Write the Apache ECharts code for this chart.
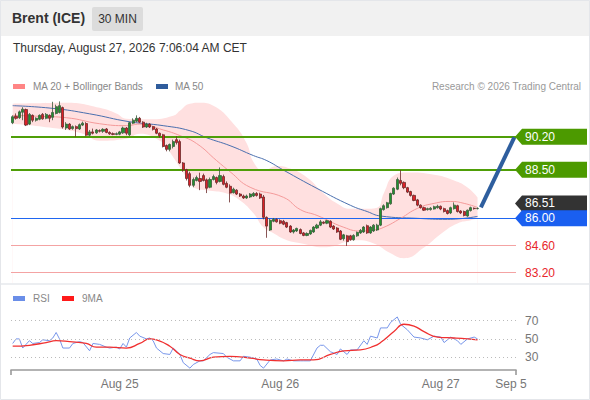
<!DOCTYPE html>
<html><head><meta charset="utf-8">
<script src="https://cdn.jsdelivr.net/npm/echarts@6/dist/echarts.min.js"></script>
<style>html,body{margin:0;padding:0;background:#fff}#c{width:590px;height:400px}</style>
</head><body><div id="c"></div><script>
// ---- data ----
const slotCount = 151; // 30-minute slots incl. projection space
const startUTC = Date.UTC(2026, 7, 24, 8, 0);
const categories = [];
for (let i = 0; i < slotCount; i++) {
  const d = new Date(startUTC + i * 1800000);
  categories.push((d.getUTCMonth() + 1) + '-' + d.getUTCDate() + ' ' + String(d.getUTCHours()).padStart(2, '0') + ':' + String(d.getUTCMinutes()).padStart(2, '0'));
}
const xTickIdx = [32, 80, 128, 149];
const xTickLabels = ['Aug 25', 'Aug 26', 'Aug 27', 'Sep 5'];

// [open, close, low, high]
const ohlc = [
[90.92,91.23,90.85,91.30],[91.25,91.15,91.08,91.40],[91.18,91.48,91.12,91.55],[91.46,91.62,91.05,91.72],
[91.60,90.80,90.75,91.65],[90.85,91.35,90.80,91.42],[91.30,91.05,90.95,91.35],[91.05,91.15,90.98,91.20],
[91.10,91.30,91.05,91.35],[91.35,91.12,91.08,91.42],[91.15,91.35,91.10,91.42],[91.30,91.15,90.95,91.35],
[91.20,91.45,91.05,92.00],[91.40,91.75,91.35,91.85],[91.45,91.80,91.40,92.02],[91.70,90.70,90.62,91.75],
[90.65,90.85,90.55,90.95],[90.85,90.60,90.55,90.90],[90.62,90.72,90.56,90.78],[90.72,90.62,90.20,90.78],
[90.60,90.82,90.55,90.88],[90.80,90.90,90.75,90.98],[90.88,90.28,90.22,90.95],[90.28,90.45,90.22,90.55],
[90.45,90.38,90.32,90.62],[90.40,90.55,90.35,90.60],[90.52,90.48,90.42,90.58],[90.48,90.58,90.40,90.64],
[90.60,90.42,90.38,90.65],[90.42,90.35,90.30,90.48],[90.36,90.32,90.28,90.42],[90.32,90.36,90.28,90.42],
[90.33,90.45,90.28,90.50],[90.40,90.65,90.35,90.72],[90.65,90.38,90.28,90.70],[90.30,90.92,90.24,90.97],
[90.90,91.05,90.85,91.15],[91.00,91.15,90.95,91.30],[91.15,90.95,90.90,91.22],[90.95,90.70,90.65,91.00],
[90.70,90.85,90.65,90.92],[90.85,90.70,90.65,90.90],[90.72,90.58,90.52,90.75],[90.60,90.38,90.33,90.65],
[90.38,90.25,90.15,90.42],[90.30,89.70,89.65,90.35],[89.75,89.55,89.45,89.80],[89.55,89.80,89.45,89.85],
[89.70,89.95,89.60,90.05],[90.05,89.90,89.80,90.22],[89.95,88.85,88.80,90.05],[88.85,88.50,88.40,88.90],
[88.50,88.05,87.95,88.55],[88.30,87.70,87.60,88.40],[87.70,88.00,87.60,88.10],[87.95,88.10,87.90,88.20],
[88.05,87.90,87.45,88.35],[88.20,87.95,87.90,88.30],[87.98,87.55,87.30,88.05],[87.60,88.00,87.55,88.10],
[88.00,88.15,87.95,88.25],[88.10,87.85,87.75,88.15],[87.90,88.20,87.85,88.62],[88.15,87.75,87.70,88.25],
[87.80,87.60,87.55,87.90],[87.65,87.30,86.82,87.75],[87.32,87.50,87.28,87.58],[87.45,87.25,87.20,87.50],
[87.25,87.15,87.10,87.30],[87.15,87.05,87.00,87.22],[87.05,87.15,87.00,87.22],[87.10,87.25,87.05,87.30],
[87.15,87.28,87.10,87.35],[87.28,87.18,87.12,87.35],[87.25,87.05,87.00,87.32],[87.10,86.05,85.95,87.20],
[86.05,85.60,85.00,86.10],[85.40,85.90,85.35,85.98],[85.85,85.95,85.80,86.02],[85.95,85.82,85.78,86.00],
[85.88,85.75,85.70,85.95],[85.85,85.70,85.65,85.92],[85.78,85.55,85.50,85.82],[85.60,85.30,85.25,85.65],
[85.30,85.40,85.22,85.45],[85.35,85.48,85.30,85.52],[85.42,85.22,85.18,85.48],[85.25,85.12,85.08,85.30],
[85.12,85.22,85.08,85.28],[85.20,85.38,85.15,85.42],[85.30,85.55,85.25,85.60],[85.50,85.65,85.45,85.72],
[85.65,85.82,85.60,85.92],[85.80,85.75,85.70,85.85],[85.75,85.88,85.70,85.92],[85.85,85.55,85.50,85.90],
[85.60,85.45,85.40,85.65],[85.50,85.30,85.25,85.55],[85.35,84.92,84.88,85.40],[84.95,85.15,84.85,85.20],
[85.10,84.80,84.58,85.15],[85.10,84.90,84.85,85.15],[84.90,85.12,84.85,85.18],[85.10,85.28,85.05,85.32],
[85.25,85.38,85.20,85.45],[85.30,85.55,85.25,85.60],[85.62,85.25,85.20,85.68],[85.25,85.55,85.20,85.60],
[85.35,85.65,85.30,85.70],[85.40,85.65,85.35,85.72],[85.65,86.50,85.60,86.55],[86.45,86.65,86.40,86.72],
[86.55,86.80,86.50,86.85],[86.75,87.28,86.70,87.32],[87.25,87.55,87.20,87.60],[87.50,88.00,87.45,88.10],
[87.95,87.80,87.70,88.48],[87.85,87.58,87.50,87.90],[87.58,87.35,87.30,87.62],[87.38,87.18,87.12,87.42],
[87.18,86.92,86.88,87.22],[86.95,86.68,86.62,87.00],[86.68,86.55,86.50,86.72],[86.55,86.42,86.38,86.60],
[86.45,86.50,86.40,86.55],[86.45,86.52,86.40,86.58],[86.48,86.60,86.45,86.65],[86.55,86.62,86.50,86.70],
[86.62,86.48,86.42,86.66],[86.50,86.35,86.30,86.55],[86.40,86.25,86.20,86.45],[86.28,86.55,86.22,86.60],
[86.50,86.68,86.45,86.82],[86.65,86.35,86.30,86.70],[86.38,86.28,86.22,86.42],[86.35,86.15,86.10,86.40],
[86.12,86.42,86.08,86.45],[86.40,86.55,86.35,86.60],[86.52,86.50,86.45,86.56],[86.50,86.51,86.46,86.56]
];

// [slot index, value]
const ma20 = [[0,91.30],[8,91.25],[16,91.18],[26,90.87],[34,90.77],[38,90.85],[45,90.55],[50,90.26],[55,89.85],
[61,88.97],[65,88.40],[71,87.60],[81,87.08],[86,86.45],[91,86.15],[99,85.54],[104,85.35],[108,85.40],[111,85.54],
[116,86.00],[121,86.51],[126,86.77],[131,86.87],[135,86.77],[139,86.56]];
const ma50 = [[0,91.80],[12,91.66],[23,91.38],[35,90.97],[45,90.77],[53,90.51],[58,90.15],[65,89.74],[72,89.23],
[76,88.97],[81,88.48],[91,87.54],[101,86.67],[106,86.35],[110,86.12],[121,86.00],[130,85.95],[139,86.10]];
const bbUpper = [[0,91.90],[6,91.92],[16,91.95],[26,91.69],[31,91.40],[34,91.13],[41,91.10],[48,91.28],[50,91.54],
[53,91.90],[56,91.95],[60,91.79],[66,90.87],[70,89.85],[72,88.90],[75,88.46],[79,88.70],[83,88.56],[88,88.10],
[93,87.28],[97,86.77],[101,86.50],[106,86.50],[109,86.55],[111,87.30],[114,88.20],[118,88.36],[126,88.25],
[132,87.95],[136,87.59],[139,87.08]];
const bbLower = [[0,90.87],[11,90.67],[21,90.36],[26,90.00],[34,90.10],[38,90.36],[44,90.00],[46,89.64],[52,88.10],
[54,87.60],[58,87.44],[64,87.28],[68,86.92],[72,86.26],[75,85.54],[78,85.23],[82,84.87],[86,84.72],[93,84.51],
[103,84.87],[108,84.70],[113,84.20],[117,83.95],[123,84.50],[128,85.20],[133,85.74],[137,85.90],[139,86.00]];

const rsi = [[0,45],[1,50],[2,50],[3,40],[5,48],[6,45],[8,46],[9,49],[11,48],[12,51],[13,57],[14,50],[15,40],
[17,40],[18,45],[20,47],[21,46],[23,37],[24,45],[26,44],[28,41],[29,40],[31,41],[32,39],[33,45],[34,41],[35,51],
[37,57],[38,53],[40,50],[41,51],[42,48],[43,40],[45,34],[47,33],[48,40],[50,33],[51,24],[53,18],[54,22],[56,26],
[57,26],[59,33],[60,35],[63,34],[64,30],[66,26],[68,26],[69,31],[71,30],[73,28],[74,21],[75,18],[77,27],[79,28],
[81,26],[82,28],[84,26],[86,26],[87,26],[89,26],[91,40],[92,43],[93,43],[95,36],[97,33],[98,39],[100,33],[101,38],
[103,38],[105,48],[106,44],[107,53],[109,51],[110,62],[112,62],[113,68],[115,74],[116,66],[118,60],[120,52],
[122,51],[124,49],[126,53],[128,52],[129,46],[131,52],[133,48],[134,44],[136,50],[138,52],[139,50]];
const rsiMA9 = [[0,42],[5,43],[10,46],[13,48],[17,47],[22,45],[25,41],[29,41],[34,40],[38,45],[41,50],[43,49],
[47,42],[50,33],[53,29],[56,26],[60,30],[65,31],[71,29],[75,27],[81,26],[86,27],[90,27],[95,33],[99,37],[104,38],
[108,42],[110,46],[114,58],[117,66],[120,64],[123,58],[127,52],[132,51],[136,50],[139,49]];
const rsiLevels = [70, 50, 30];

const resistances = [90.20, 88.50];
const pivot = 86.00;
const supports = [84.60, 83.20];
const lastPrice = 86.51;
const ma50Last = 86.12;
const lastSlot = 139.5;
const endSlot = 150.5;
const arrowFrom = [140, 86.56];
const arrowTo = [149.7, 90.17];

// ---- chart ----
const chart = echarts.init(document.getElementById('c'), null, {renderer: 'svg'});
const FONT = 'Liberation Sans, Arial, sans-serif';

chart.setOption({
  animation: false,
  backgroundColor: '#fff',
  textStyle: {fontFamily: FONT},
  grid: [
    {left: 11, right: 74, top: 94, bottom: 115.6},
    {left: 11, right: 74, top: 302.3, bottom: 30}
  ],
  xAxis: [
    {type: 'category', gridIndex: 0, data: categories, boundaryGap: true, show: false},
    {type: 'category', gridIndex: 1, data: categories, boundaryGap: true,
     axisLine: {lineStyle: {color: '#9a9a9a', width: 1.6}},
     axisTick: {show: true, interval: (i) => i === 0, length: 5, inside: false, lineStyle: {color: '#9a9a9a', width: 1.6}},
     axisLabel: {interval: (i) => xTickIdx.indexOf(i) >= 0,
                 formatter: (v, i) => xTickLabels[xTickIdx.indexOf(i)] || '',
                 color: '#777', fontSize: 12, margin: 8, fontFamily: FONT},
     splitLine: {show: false}}
  ],
  yAxis: [
    {type: 'value', gridIndex: 0, min: 82.6, max: 92.4, show: false, splitLine: {show: false}},
    {type: 'value', gridIndex: 1, min: 16, max: 90, show: false, splitLine: {show: false}}
  ],
  series: [
    {name: 'BB upper', type: 'line', xAxisIndex: 0, yAxisIndex: 0, data: bbUpper, smooth: 0.5, symbol: 'none',
     lineStyle: {width: 0}, areaStyle: {color: '#ffe0e0', opacity: 1, origin: 'start'}, z: 1, silent: true},
    {name: 'BB lower', type: 'line', xAxisIndex: 0, yAxisIndex: 0, data: bbLower, smooth: 0.5, symbol: 'none',
     lineStyle: {width: 0}, areaStyle: {color: '#ffffff', opacity: 1, origin: 'start'}, z: 2, silent: true},
    {name: 'Levels', type: 'line', xAxisIndex: 0, yAxisIndex: 0, data: [], z: 3, silent: true,
     markLine: {symbol: 'none', silent: true, animation: false, label: {show: false},
       data: [
         {yAxis: resistances[0], lineStyle: {color: '#4f9e08', width: 2, type: 'solid'}},
         {yAxis: resistances[1], lineStyle: {color: '#4f9e08', width: 2, type: 'solid'}},
         {yAxis: pivot, lineStyle: {color: '#1f66f0', width: 1.2, type: 'solid'}},
         {yAxis: supports[0], lineStyle: {color: '#f4a3a3', width: 1.2, type: 'solid'}},
         {yAxis: supports[1], lineStyle: {color: '#f4a3a3', width: 1.2, type: 'solid'}}
       ]}},
    {name: 'MA 50', type: 'line', xAxisIndex: 0, yAxisIndex: 0, data: ma50, smooth: 0.5, symbol: 'none',
     lineStyle: {color: '#4a6fae', width: 1}, z: 4, silent: true},
    {name: 'MA 20', type: 'line', xAxisIndex: 0, yAxisIndex: 0, data: ma20, smooth: 0.5, symbol: 'none',
     lineStyle: {color: '#f49a9a', width: 1}, z: 4, silent: true},
    {name: 'Brent', type: 'candlestick', xAxisIndex: 0, yAxisIndex: 0, data: ohlc, barWidth: 2.6, z: 5,
     itemStyle: {color: '#21932f', color0: '#dc2026', borderColor: '#3b5a3b', borderColor0: '#6a2a2a', borderWidth: 0.8},
     markLine: {symbol: 'none', silent: true, animation: false, label: {show: false},
       data: [
         [{coord: [lastSlot, lastPrice]}, {coord: [endSlot, lastPrice]}],
         [{coord: [lastSlot, ma50Last]}, {coord: [endSlot, ma50Last]}]
       ],
       lineStyle: {color: '#555', width: 1, type: [1, 3]}}},
    {name: 'Arrow', type: 'line', xAxisIndex: 0, yAxisIndex: 0, data: [], z: 6, silent: true,
     markLine: {symbol: ['none', 'arrow'], symbolSize: [0, 18], silent: true, animation: false, label: {show: false},
       data: [[{coord: arrowFrom}, {coord: arrowTo}]],
       lineStyle: {color: '#2e5e9e', width: 4, type: 'solid'}}},
    {name: 'RSI', type: 'line', xAxisIndex: 1, yAxisIndex: 1, data: rsi, symbol: 'none',
     lineStyle: {color: '#7896ea', width: 1}, z: 3, silent: true,
     markLine: {symbol: 'none', silent: true, animation: false,
       label: {show: true, position: 'end', distance: 9, color: '#777', fontSize: 12, fontFamily: FONT, formatter: (p) => String(p.value)},
       lineStyle: {color: '#bbb', width: 1, type: [1, 3]},
       data: rsiLevels.map(v => ({yAxis: v})).concat([
         [{coord: [lastSlot - 0.5, rsi[rsi.length - 1][1]], label: {show: false}, lineStyle: {color: '#9fb4f0', type: [2, 2], width: 1}},
          {coord: [endSlot, rsi[rsi.length - 1][1]]}]
       ])}},
    {name: '9MA', type: 'line', xAxisIndex: 1, yAxisIndex: 1, data: rsiMA9, smooth: 0.5, symbol: 'none',
     lineStyle: {color: '#f03030', width: 1.3}, z: 4, silent: true}
  ]
});

function yPix(v) { return chart.convertToPixel({gridIndex: 0}, [0, v])[1]; }
function tag(v, bg, textColor, dy) {
  const y = yPix(v) + (dy || 0);
  return [
    {type: 'polygon', z: 50, shape: {points: [[515, y], [522, y - 8], [587, y - 8], [587, y + 8], [522, y + 8]]}, style: {fill: bg}},
    {type: 'text', z: 51, x: 525, y: y, style: {text: v.toFixed(2), fill: textColor, font: '12px ' + FONT, verticalAlign: 'middle', align: 'left'}}
  ];
}
function plainTag(v, color) {
  const y = yPix(v);
  return [{type: 'text', z: 51, x: 525, y: y, style: {text: v.toFixed(2), fill: color, font: '12px ' + FONT, verticalAlign: 'middle', align: 'left'}}];
}

const g = [];
// frame & header
g.push({type: 'rect', z: 0, shape: {x: 0, y: 0, width: 590, height: 36}, style: {fill: '#f1f1f1'}});
g.push({type: 'text', z: 10, x: 12, y: 18, style: {text: 'Brent (ICE)', fill: '#333', font: 'bold 14px ' + FONT, verticalAlign: 'middle'}});
g.push({type: 'rect', z: 10, shape: {x: 92, y: 7, width: 51, height: 24, r: 2}, style: {fill: '#dcdcdc'}});
g.push({type: 'text', z: 11, x: 117.5, y: 19, style: {text: '30 MIN', fill: '#333', font: '12px ' + FONT, verticalAlign: 'middle', align: 'center'}});
g.push({type: 'text', z: 10, x: 13, y: 48, style: {text: 'Thursday, August 27, 2026 7:06:04 AM CET', fill: '#333', font: '12px ' + FONT, verticalAlign: 'middle'}});
// main legend
g.push({type: 'rect', z: 10, shape: {x: 13, y: 84, width: 12, height: 5}, style: {fill: '#ff8585'}});
g.push({type: 'text', z: 10, x: 33, y: 86.5, style: {text: 'MA 20 + Bollinger Bands', fill: '#888', font: '10px ' + FONT, verticalAlign: 'middle'}});
g.push({type: 'rect', z: 10, shape: {x: 156, y: 84, width: 12, height: 5}, style: {fill: '#2f5c9c'}});
g.push({type: 'text', z: 10, x: 175, y: 86.5, style: {text: 'MA 50', fill: '#888', font: '10px ' + FONT, verticalAlign: 'middle'}});
g.push({type: 'text', z: 10, x: 581, y: 86.5, style: {text: 'Research \u00a9 2026 Trading Central', fill: '#999', font: '10px ' + FONT, verticalAlign: 'middle', align: 'right'}});
// panel separator
g.push({type: 'rect', z: 10, shape: {x: 0, y: 283, width: 590, height: 2}, style: {fill: '#eceef1'}});
// RSI legend
g.push({type: 'rect', z: 10, shape: {x: 13, y: 296, width: 12, height: 5}, style: {fill: '#6a8ee8'}});
g.push({type: 'text', z: 10, x: 33, y: 298.5, style: {text: 'RSI', fill: '#888', font: '10px ' + FONT, verticalAlign: 'middle'}});
g.push({type: 'rect', z: 10, shape: {x: 62, y: 296, width: 12, height: 5}, style: {fill: '#ff1a1a'}});
g.push({type: 'text', z: 10, x: 82, y: 298.5, style: {text: '9MA', fill: '#888', font: '10px ' + FONT, verticalAlign: 'middle'}});
// outer border
g.push({type: 'rect', z: 60, shape: {x: 0.5, y: 0.5, width: 589, height: 399}, style: {fill: 'none', stroke: '#e4e6ea', lineWidth: 1}});
// price tags
g.push(...tag(resistances[0], '#4c9a00', '#fff'));
g.push(...tag(resistances[1], '#4c9a00', '#fff'));
g.push(...tag(lastPrice, '#333333', '#fff', -5));
const pv = tag(pivot, '#1a5ff0', '#fff'); pv[0].z = 52; pv[1].z = 53;
g.push(...pv);
g.push(...plainTag(supports[0], '#e8262b'));
g.push(...plainTag(supports[1], '#e8262b'));

chart.setOption({graphic: g});
</script></body></html>
